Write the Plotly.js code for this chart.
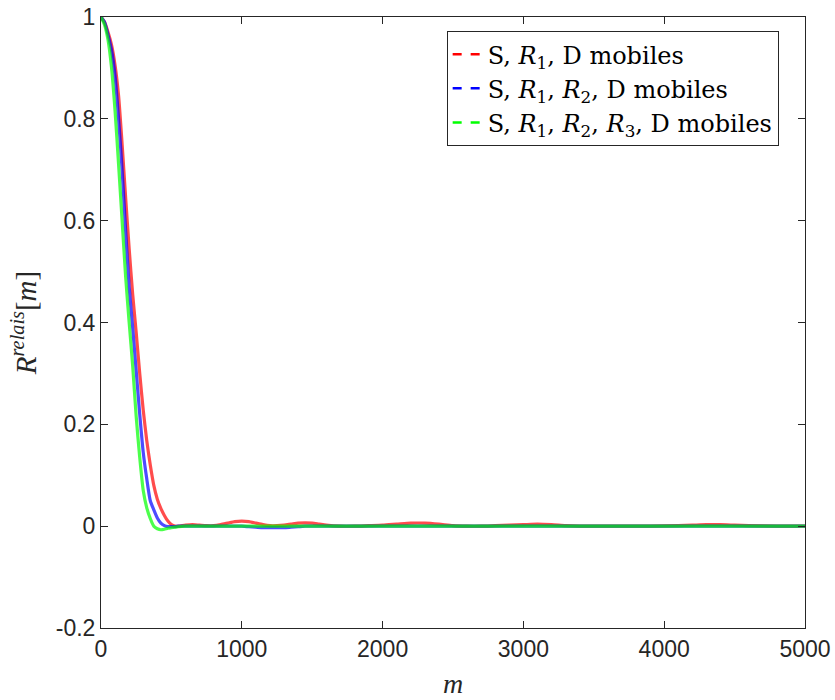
<!DOCTYPE html>
<html>
<head>
<meta charset="utf-8">
<script src="https://cdn.plot.ly/plotly-3.0.1.min.js"></script>
<style>html,body{margin:0;padding:0;background:#fff;}#chart{width:835px;height:700px;}</style>
</head>
<body>
<div id="chart"></div>
<script>
// lag m
const m = [0,25,50,75,100,125,150,175,200,225,250,275,300,325,350,375,400,425,450,475,500,525,550,
  600,650,700,750,800,850,900,950,1000,1050,1100,1150,1200,1250,1300,1350,1400,1450,1500,1550,1600,
  1700,1800,1900,2000,2100,2200,2300,2400,2500,2600,2700,2800,2900,3000,3100,3200,3300,3400,3500,
  3700,3900,4100,4200,4300,4400,4500,4600,4800,5000];

// S, R1, D mobiles
const red = [1,0.99,0.97,0.945,0.905,0.845,0.75,0.645,0.545,0.455,0.38,0.3,0.228,0.168,0.12,0.08,0.053,0.035,0.021,0.01,0.003,0.0,0.0,
  0.002,0.003,0.002,0.001,0.001,0.003,0.006,0.009,0.01,0.009,0.006,0.003,0.001,0.001,0.002,0.004,0.006,0.0065,0.006,0.004,0.002,
  0.0,0.0,0.001,0.002,0.004,0.006,0.006,0.004,0.001,0.0,0.0,0.001,0.002,0.003,0.004,0.003,0.001,0.0,0.0,
  0.0,0.0,0.001,0.002,0.003,0.003,0.002,0.001,0.0,0.0];

// S, R1, R2, D mobiles
const blue = [1,0.99,0.965,0.935,0.885,0.8,0.7,0.58,0.47,0.39,0.305,0.22,0.145,0.093,0.05,0.032,0.016,0.006,0.001,-0.001,-0.001,-0.001,0.0,
  0.0,0.0,0.0,0.0,0.0,0.0,0.0,0.0,0.0,-0.001,-0.002,-0.003,-0.003,-0.003,-0.003,-0.002,-0.001,0.0,0.0,0.0,0.0,
  0.0,0.0,0.0,0.0,0.0,0.0,0.0,0.0,0.0,0.0,0.0,0.0,0.0,0.0,0.0,0.0,0.0,0.0,0.0,
  0.0,0.0,0.0,0.0,0.0,0.0,0.0,0.0,0.0,0.0];

// S, R1, R2, R3, D mobiles
const green = [1,0.985,0.955,0.9,0.815,0.71,0.6,0.49,0.4,0.315,0.215,0.135,0.07,0.036,0.015,0.0,-0.005,-0.007,-0.006,-0.004,-0.003,-0.002,-0.001,
  0.0,0.0,0.0,0.0,0.0,0.0,0.0,0.0,0.0,0.0,0.0,0.0,0.0,0.0,0.0,0.0,0.0,0.0,0.0,0.0,0.0,
  0.0,0.0,0.0,0.0,0.0,0.0,0.0,0.0,0.0,0.0,0.0,0.0,0.0,0.0,0.0,0.0,0.0,0.0,0.0,
  0.0,0.0,0.0,0.0,0.0,0.0,0.0,0.0,0.0,0.0];

const seriesNames = [
  'S, <i>R</i><sub>1</sub>, D mobiles',
  'S, <i>R</i><sub>1</sub>, <i>R</i><sub>2</sub>, D mobiles',
  'S, <i>R</i><sub>1</sub>, <i>R</i><sub>2</sub>, <i>R</i><sub>3</sub>, D mobiles'
];
const seriesColors = ['rgb(255,0,0)','rgb(0,0,255)','rgb(0,255,0)'];
const seriesData = [red, blue, green];

const xTicks = [0,1000,2000,3000,4000,5000];
const yTicks = [-0.2,0,0.2,0.4,0.6,0.8,1];
const yTickText = ['-0.2','0','0.2','0.4','0.6','0.8','1'];

const traces = [];
seriesData.forEach((d,i)=>{
  traces.push({x:m, y:d, type:'scatter', mode:'lines', showlegend:false, hoverinfo:'skip',
    line:{color:seriesColors[i], width:3.2, shape:'spline', smoothing:0.6}, opacity:0.7});
});
seriesData.forEach((d,i)=>{
  traces.push({x:[null], y:[null], type:'scatter', mode:'lines', name:seriesNames[i],
    line:{color:seriesColors[i], width:2.5, dash:'dash'}});
});

const axisCol = '#262626';
const serif = "'Liberation Serif', 'Times New Roman', serif";
const sans = "'Liberation Sans', Arial, sans-serif";
const layout = {
  width:835, height:700,
  paper_bgcolor:'#fff', plot_bgcolor:'#fff',
  margin:{l:101, r:30, t:17, b:72},
  showlegend:true,
  font:{family:sans, color:axisCol},
  xaxis:{range:[0,5000], tickvals:xTicks, ticktext:xTicks.map(String),
    ticks:'inside', ticklen:7, tickcolor:axisCol, tickwidth:1,
    showline:true, linecolor:axisCol, linewidth:1, mirror:'ticks',
    showgrid:false, zeroline:false,
    tickfont:{size:23, color:axisCol, family:sans},
    title:{text:'<i>m</i>', font:{family:serif, size:28, color:axisCol}, standoff:12}},
  yaxis:{range:[-0.2,1], tickvals:yTicks, ticktext:yTickText,
    ticks:'inside', ticklen:7, tickcolor:axisCol, tickwidth:1,
    showline:true, linecolor:axisCol, linewidth:1, mirror:'ticks',
    showgrid:false, zeroline:false,
    tickfont:{size:23, color:axisCol, family:sans},
    title:{text:'<i>R</i><sup><i>relais</i></sup>[<i>m</i>]', font:{family:serif, size:29, color:axisCol}, standoff:10}},
  legend:{x:0.491, y:0.977, xanchor:'left', yanchor:'top',
    bgcolor:'#fff', bordercolor:axisCol, borderwidth:1,
    font:{family:"'DejaVu Serif', serif", size:24, color:'#000'},
    itemwidth:30, tracegroupgap:0}
};

Plotly.newPlot('chart', traces, layout, {displayModeBar:false, staticPlot:true});
</script>
</body>
</html>
